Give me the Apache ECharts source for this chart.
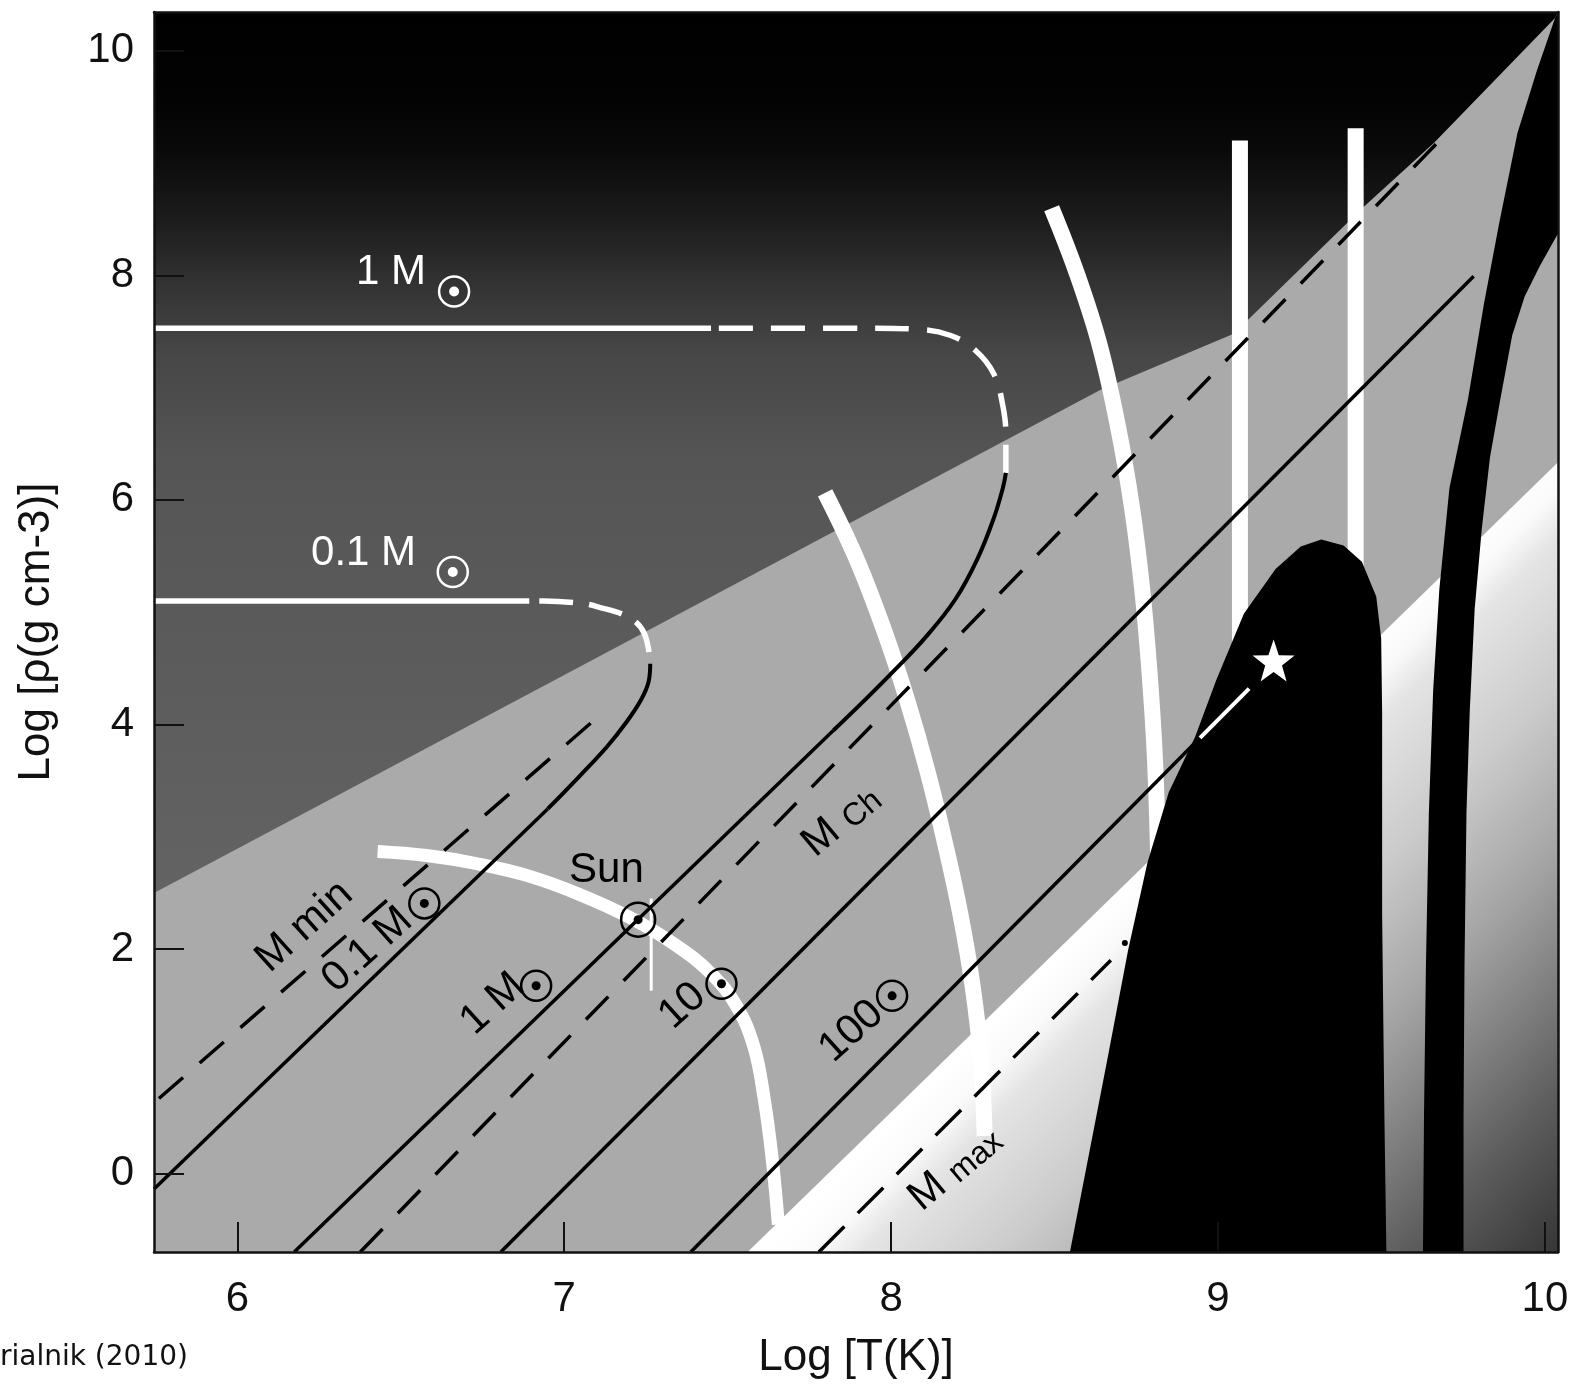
<!DOCTYPE html>
<html>
<head>
<meta charset="utf-8">
<title>log T - log rho plane</title>
<script src="https://cdn.jsdelivr.net/npm/echarts@6.0.0/dist/echarts.min.js"></script>
<style>
  html, body { margin: 0; padding: 0; background: #fff; }
  #chart { width: 1593px; height: 1389px; }
</style>
</head>
<body>
<div id="chart"></div>
<script>
// axes
const xTicks = [6, 7, 8, 9, 10]
const yTicks = [0, 2, 4, 6, 8, 10]
const xRange = [5.745, 10.04]
const yRange = [-0.697, 10.344]

// shaded regions, [log T, log rho]
const darkRegion = [[5.745, 2.50], [7.0, 4.44], [8.071, 6.10], [8.641, 6.98], [9.048, 7.48], [9.446, 8.61], [9.661, 9.18], [10.031, 10.29], [10.04, 10.344], [5.745, 10.344]]
const lightRegion = [[7.561, -0.697], [10.04, 6.335], [10.04, -0.697]]
const blackBand = [[9.627, -0.697], [9.630, 0.498], [9.636, 1.855], [9.645, 3.213], [9.658, 4.299], [9.677, 5.204], [9.708, 6.109], [9.764, 6.887], [9.813, 7.738], [9.860, 8.462], [9.916, 9.267], [9.975, 9.819], [10.031, 10.29], [10.04, 10.344], [10.04, 8.371], [9.984, 8.081], [9.938, 7.810], [9.900, 7.466], [9.863, 6.887], [9.832, 6.380], [9.807, 5.747], [9.785, 5.023], [9.770, 4.118], [9.760, 3.213], [9.754, 1.855], [9.751, 0.498], [9.751, -0.697]]
const blackBlob = [[8.547, -0.697], [8.663, 1.041], [8.725, 1.991], [8.784, 2.769], [8.849, 3.394], [8.930, 3.891], [8.995, 4.398], [9.079, 4.986], [9.176, 5.385], [9.253, 5.584], [9.316, 5.647], [9.384, 5.593], [9.440, 5.448], [9.484, 5.140], [9.499, 4.769], [9.502, 4.118], [9.502, 2.308], [9.509, 0.498], [9.515, -0.697]]

// white bands
const whiteArcLow = [[6.429, 2.869], [6.579, 2.833], [6.734, 2.760], [6.890, 2.652], [7.045, 2.489], [7.201, 2.281], [7.341, 2.036], [7.449, 1.783], [7.527, 1.493], [7.580, 1.131], [7.611, 0.679], [7.636, 0.136], [7.655, -0.452]]
const whiteArcMid = [[7.798, 6.063], [7.894, 5.475], [7.978, 4.842], [8.050, 4.208], [8.112, 3.575], [8.165, 2.941], [8.212, 2.308], [8.249, 1.674], [8.274, 1.041], [8.286, 0.335]]
const whiteArcHigh = [[8.491, 8.597], [8.569, 8.009], [8.638, 7.376], [8.694, 6.652], [8.737, 5.928], [8.768, 5.204], [8.790, 4.480], [8.806, 3.756], [8.815, 3.032], [8.818, 2.579]]
const whiteBarA = [[9.067, 9.20], [9.067, 4.4]]
const whiteBarB = [[9.421, 9.31], [9.421, 5.3]]

// evolutionary tracks
const track1Flat = [[5.745, 7.529], [7.449, 7.529]]
const track1Hook = [[7.449, 7.529], [7.947, 7.529], [8.072, 7.520], [8.180, 7.466], [8.258, 7.330], [8.314, 7.122], [8.342, 6.833], [8.351, 6.561], [8.351, 6.24]]
const track1Curve = [[7.823, 3.946], [7.916, 4.208], [8.009, 4.480], [8.103, 4.769], [8.196, 5.113], [8.264, 5.475], [8.314, 5.837], [8.342, 6.109], [8.351, 6.24]]
const track01Flat = [[5.745, 5.10], [6.893, 5.10]]
const track01Hook = [[6.893, 5.10], [6.936, 5.10], [7.048, 5.08], [7.10, 5.05], [7.20, 4.95], [7.245, 4.81], [7.263, 4.54]]
const track01Curve = [[6.95, 3.25], [7.05, 3.55], [7.13, 3.80], [7.19, 4.02], [7.235, 4.22], [7.258, 4.38], [7.263, 4.54]]

// constant mass lines
const mass01 = [[5.745, -0.136], [6.95, 3.25]]
const mass1 = [[6.174, -0.697], [7.823, 3.946]]
const mass10 = [[6.806, -0.697], [9.782, 7.991]]
const mass100 = [[7.387, -0.697], [8.942, 3.873]]
const mass100Core = [[8.945, 3.88], [9.095, 4.32]]
const massMin = [[5.760, 0.670], [7.101, 4.063]]
const massCh = [[6.376, -0.697], [9.670, 9.176]]
const massMax = [[7.779, -0.697], [8.672, 1.900]]
const massMaxDot = [[8.715, 2.054]]
const sunTick = [[7.266, 2.45], [7.266, 1.63]]
const starPos = [[9.170, 4.570]]

// annotations
const whiteNotePos = [[6.470, 8.027], [6.386, 5.520]]
const whiteNoteText = ['1 M', '0.1 M']
const whiteRings = [[6.663, 7.855], [6.659, 5.357]]
const slantNotePos = [[6.205, 2.199], [6.398, 1.991], [6.781, 1.511], [7.362, 1.493], [7.879, 1.267]]
const slantNoteText = ['M min', '0.1 M', '1 M', '10', '100']
const blackRings = [[6.572, 2.407], [6.914, 1.674], [7.481, 1.692], [8.003, 1.584]]
const subNotePos = [[7.848, 3.140], [8.196, 0.045]]
const subNoteText = [['M', 'Ch'], ['M', 'max']]
const sunNotePos = [[7.129, 2.697]]
const sunRing = [[7.226, 2.262]]

const FONT = '"Liberation Sans", Arial, sans-serif'
const chart = echarts.init(document.getElementById('chart'))

function poly (pts, fill, z) {
  return {
    type: 'custom',
    silent: true,
    z: z,
    data: pts,
    renderItem: function (params, api) {
      if (params.dataIndex !== 0) return null
      return {
        type: 'polygon',
        shape: { points: pts.map(function (p) { return api.coord(p) }) },
        style: { fill: fill }
      }
    }
  }
}

function path (pts, color, width, dash, smooth, z, dashOffset) {
  return {
    type: 'line',
    data: pts,
    symbol: 'none',
    silent: true,
    smooth: smooth || false,
    z: z,
    lineStyle: { color: color, width: width, type: dash || 'solid', dashOffset: dashOffset || 0, cap: 'butt', opacity: 1 }
  }
}

function rings (pts, color, size, width) {
  return {
    type: 'scatter',
    data: pts,
    silent: true,
    z: 8,
    symbol: 'circle',
    symbolSize: size,
    itemStyle: { color: 'rgba(0,0,0,0)', borderColor: color, borderWidth: width, opacity: 1 }
  }
}

function dots (pts, color, size) {
  return {
    type: 'scatter',
    data: pts,
    silent: true,
    z: 8,
    symbol: 'circle',
    symbolSize: size,
    itemStyle: { color: color, opacity: 1 }
  }
}

function notes (pos, texts, color, rotate, rich) {
  return {
    type: 'scatter',
    silent: true,
    z: 8,
    symbolSize: 1,
    itemStyle: { color: 'rgba(0,0,0,0)', opacity: 1 },
    data: pos.map(function (p, i) {
      return { value: p, name: texts[i] }
    }),
    label: {
      show: true,
      position: 'inside',
      rotate: rotate,
      color: color,
      opacity: 1,
      fontSize: 42,
      fontFamily: FONT,
      formatter: rich
        ? function (p) { return '{m|' + subNoteText[p.dataIndex][0] + '} {s|' + subNoteText[p.dataIndex][1] + '}' }
        : '{b}',
      rich: rich || undefined
    }
  }
}

const darkFill = new echarts.graphic.LinearGradient(0, 0, 0, 1, [
  { offset: 0, color: '#000000' },
  { offset: 0.1, color: '#030303' },
  { offset: 0.16, color: '#0a0a0a' },
  { offset: 0.24, color: '#1d1d1d' },
  { offset: 0.31, color: '#333333' },
  { offset: 0.39, color: '#474747' },
  { offset: 0.51, color: '#555555' },
  { offset: 1, color: '#636363' }
])
const lightFill = new echarts.graphic.LinearGradient(0, 0, 1, 1, [
  { offset: 0.5, color: '#ffffff' },
  { offset: 0.53, color: '#fafafa' },
  { offset: 0.56, color: '#e4e4e4' },
  { offset: 0.65, color: '#cbcbcb' },
  { offset: 0.75, color: '#a5a5a5' },
  { offset: 0.9, color: '#5e5e5e' },
  { offset: 1, color: '#363636' }
])

const starPath = 'path://M0,-10L2.35,-3.24L9.51,-3.09L3.8,1.24L5.88,8.09L0,4L-5.88,8.09L-3.8,1.24L-9.51,-3.09L-2.35,-3.24Z'

const option = {
  animation: false,
  backgroundColor: '#ffffff',
  grid: {
    left: 154, top: 12, width: 1404, height: 1240,
    show: true, backgroundColor: '#aaaaaa', borderWidth: 0,
    containLabel: false, outerBoundsMode: 'none'
  },
  xAxis: [
    {
      type: 'value', min: xRange[0], max: xRange[1], z: 10,
      name: 'Log [T(K)]', nameLocation: 'middle', nameGap: 84,
      nameTextStyle: { fontSize: 44, color: '#111', fontFamily: FONT },
      axisLine: { show: true, onZero: false, lineStyle: { color: '#111', width: 2.5 } },
      axisTick: { show: true, inside: true, length: 30, customValues: xTicks, lineStyle: { color: '#111', width: 2 } },
      axisLabel: { show: true, customValues: xTicks, margin: 26, fontSize: 42, color: '#111', fontFamily: FONT },
      splitLine: { show: false }
    },
    {
      type: 'value', min: xRange[0], max: xRange[1], position: 'top', z: 10,
      axisLine: { show: true, onZero: false, lineStyle: { color: '#111', width: 2.5 } },
      axisTick: { show: false }, axisLabel: { show: false }, splitLine: { show: false }
    }
  ],
  yAxis: [
    {
      type: 'value', min: yRange[0], max: yRange[1], z: 10,
      name: 'Log [ρ(g cm-3)]', nameLocation: 'middle', nameGap: 95,
      nameTextStyle: { fontSize: 44, color: '#111', fontFamily: FONT },
      axisLine: { show: true, onZero: false, lineStyle: { color: '#111', width: 2.5 } },
      axisTick: { show: true, inside: true, length: 30, customValues: yTicks, lineStyle: { color: '#111', width: 2 } },
      axisLabel: { show: true, customValues: yTicks, margin: 20, fontSize: 42, color: '#111', fontFamily: FONT },
      splitLine: { show: false }
    },
    {
      type: 'value', min: yRange[0], max: yRange[1], position: 'right', z: 10,
      axisLine: { show: true, onZero: false, lineStyle: { color: '#111', width: 2.5 } },
      axisTick: { show: false }, axisLabel: { show: false }, splitLine: { show: false }
    }
  ],
  graphic: [
    {
      type: 'text', left: 0, top: 1344,
      style: { text: 'rialnik (2010)', font: '28px "DejaVu Sans", sans-serif', fill: '#111' }
    }
  ],
  series: [
    poly(darkRegion, darkFill, 1),
    poly(lightRegion, lightFill, 1),

    // white bands
    path(whiteArcLow, '#ffffff', 13, null, 0.4, 2),
    path(whiteArcMid, '#ffffff', 16, null, 0.4, 2),
    path(whiteArcHigh, '#ffffff', 16, null, 0.4, 2),
    path(whiteBarA, '#ffffff', 16, null, false, 2),
    path(whiteBarB, '#ffffff', 16, null, false, 2),

    // tracks
    path(track1Flat, '#ffffff', 5.5, null, false, 3),
    path(track1Hook, '#ffffff', 5.5, [34, 18], 0.4, 3, 44),
    path(track1Curve, '#000000', 4, null, 0.4, 3),
    path(track01Flat, '#ffffff', 5.5, null, false, 3),
    path(track01Hook, '#ffffff', 5.5, [34, 16], 0.4, 3, 40),
    path(track01Curve, '#000000', 4, null, 0.4, 3),
    path(sunTick, '#ffffff', 3, null, false, 3),

    // mass lines
    path(mass01, '#000000', 3.5, null, false, 3),
    path(mass1, '#000000', 3.5, null, false, 3),
    path(mass10, '#000000', 3.5, null, false, 3),
    path(mass100, '#000000', 3.5, null, false, 3),
    path(massMin, '#000000', 3.5, [32, 22], false, 3),
    path(massCh, '#000000', 3.5, [32, 22], false, 3),
    path(massMax, '#000000', 3.5, [36, 19], false, 3),
    dots(massMaxDot, '#000000', 6),

    poly(blackBand, '#000000', 4),
    poly(blackBlob, '#000000', 4),
    path(mass100Core, '#ffffff', 4, null, false, 5),
    {
      type: 'scatter', data: starPos, silent: true, z: 6,
      symbol: starPath, symbolSize: 42, itemStyle: { color: '#ffffff', opacity: 1 }
    },

    // labels and solar symbols
    notes(whiteNotePos, whiteNoteText, '#ffffff', 0),
    rings(whiteRings, '#ffffff', 30, 2.5),
    dots(whiteRings, '#ffffff', 10),
    notes(slantNotePos, slantNoteText, '#000000', 42),
    rings(blackRings, '#000000', 30, 2.5),
    dots(blackRings, '#000000', 9),
    notes(subNotePos, ['', ''], '#000000', 40, {
      m: { fontSize: 42, color: '#000', fontFamily: FONT },
      s: { fontSize: 32, color: '#000', fontFamily: FONT, padding: [10, 0, 0, 0] }
    }),
    notes(sunNotePos, ['Sun'], '#000000', 0),
    rings(sunRing, '#000000', 34, 2.5),
    dots(sunRing, '#000000', 9)
  ]
}

chart.setOption(option)
</script>
</body>
</html>
